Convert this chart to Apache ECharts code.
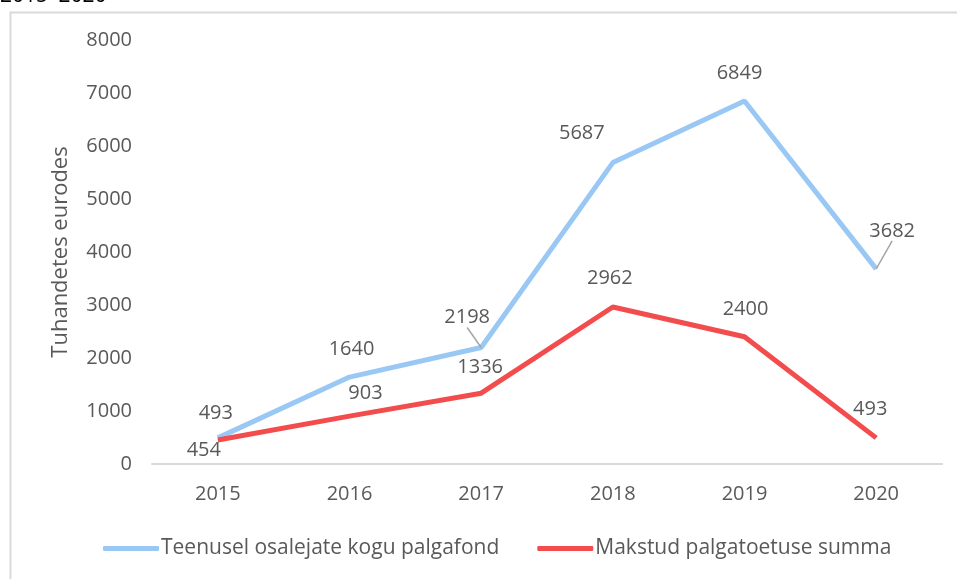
<!DOCTYPE html>
<html>
<head>
<meta charset="utf-8">
<script src="https://cdn.jsdelivr.net/npm/echarts@6/dist/echarts.min.js"></script>
<style>
  html, body { margin: 0; padding: 0; background: #fff; }
  #main { width: 957px; height: 579px; }
</style>
</head>
<body>
<div id="main"></div>
<script>
// andmed
var years = ['2015', '2016', '2017', '2018', '2019', '2020'];
var palgafond = [493, 1640, 2198, 5687, 6849, 3682];
var palgatoetus = [454, 903, 1336, 2962, 2400, 493];
var yTicks = [0, 1000, 2000, 3000, 4000, 5000, 6000, 7000, 8000];

// label nudges (px), per point
var blueShift = [[-2, -10], [2, -13], [-14, -15], [-31, -14], [-5, -13], [16, -23]];
var redShift = [[-14, 25], [16, -8], [-1, -11], [-3, -14], [1, -12], [-6, -14]];

var textColor = '#595959';
var font = 'Open Sans';

function labelData(vals, guideIdx) {
    return vals.map(function (v, i) {
        var item = { value: v };
        if (guideIdx.indexOf(i) >= 0) {
            item.labelLine = { show: true };
        }
        return item;
    });
}

var myChart = echarts.init(document.getElementById('main'));
var option = {
    animation: false,
    grid: { left: 152, right: 15, top: 40, bottom: 115 },
    graphic: [
        {
            type: 'rect',
            shape: { x: 10.5, y: 12.5, width: 1000, height: 700 },
            style: { fill: null, stroke: '#d9d9d9', lineWidth: 2 },
            silent: true
        },
        {
            type: 'text',
            left: 0, top: -14,
            style: { text: '2015\u20132020', fill: '#000', font: '21px "Open Sans"' }
        }
    ],
    legend: {
        bottom: 15,
        left: 98,
        itemWidth: 56,
        itemHeight: 5,
        itemGap: 38,
        icon: 'roundRect',
        textStyle: { color: textColor, fontFamily: font, fontSize: 21, padding: [0, 0, 0, -3] },
        data: ['Teenusel osalejate kogu palgafond', 'Makstud palgatoetuse summa']
    },
    xAxis: {
        type: 'category',
        data: years,
        axisLine: { lineStyle: { color: '#d9d9d9', width: 2 } },
        axisTick: { show: false },
        axisLabel: { color: textColor, fontFamily: font, fontSize: 20, margin: 20 }
    },
    yAxis: {
        type: 'value',
        min: 0,
        max: 8000,
        interval: 1000,
        name: 'Tuhandetes eurodes',
        nameLocation: 'middle',
        nameGap: 80,
        nameTextStyle: { color: textColor, fontFamily: font, fontSize: 22 },
        splitLine: { show: false },
        axisLine: { show: false },
        axisTick: { show: false },
        axisLabel: {
            color: textColor, fontFamily: font, fontSize: 20, margin: 20,
            formatter: function (v) { return yTicks.indexOf(v) >= 0 ? String(v) : ''; }
        }
    },
    series: [
        {
            name: 'Teenusel osalejate kogu palgafond',
            type: 'line',
            data: labelData(palgafond, [2, 5]),
            symbol: 'circle',
            symbolSize: 0.1,
            lineStyle: { color: '#9ac8f5', width: 5 },
            itemStyle: { color: '#9ac8f5' },
            label: { show: true, position: 'top', distance: 5, color: textColor, fontFamily: font, fontSize: 20 },
            labelLine: { show: false, lineStyle: { color: '#a6a6a6', width: 1.5 } },
            labelLayout: function (p) {
                return { dx: blueShift[p.dataIndex][0], dy: blueShift[p.dataIndex][1] };
            }
        },
        {
            name: 'Makstud palgatoetuse summa',
            type: 'line',
            data: palgatoetus,
            symbol: 'circle',
            symbolSize: 0.1,
            lineStyle: { color: '#f34c4c', width: 5 },
            itemStyle: { color: '#f34c4c' },
            label: { show: true, position: 'top', distance: 5, color: textColor, fontFamily: font, fontSize: 20 },
            labelLayout: function (p) {
                return { dx: redShift[p.dataIndex][0], dy: redShift[p.dataIndex][1] };
            }
        }
    ]
};
myChart.setOption(option, true);
</script>
</body>
</html>
